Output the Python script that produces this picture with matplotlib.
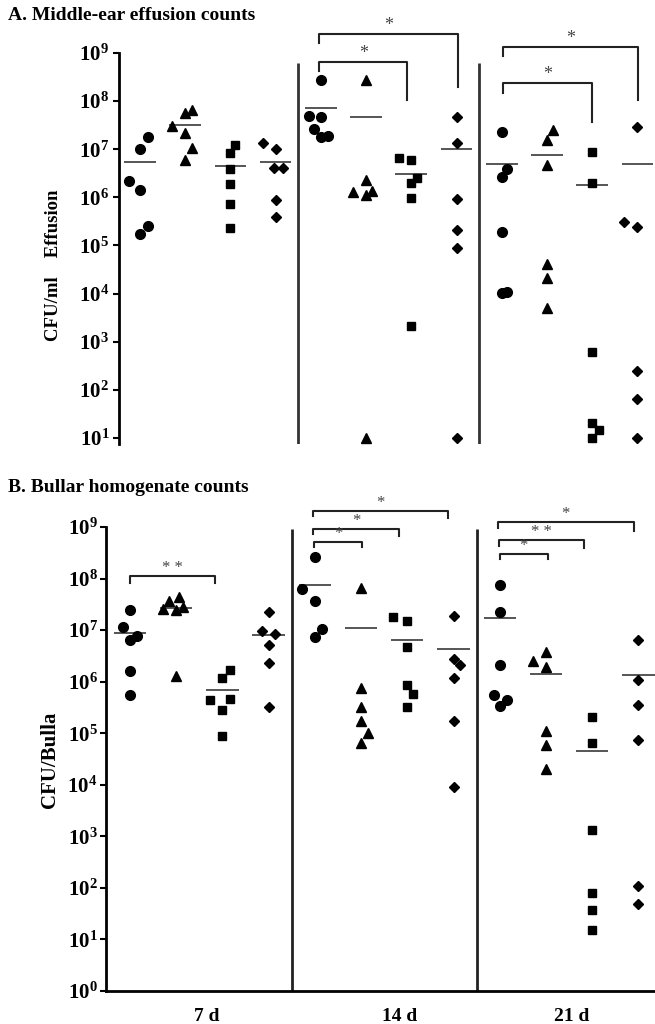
import numpy as np
import matplotlib.pyplot as plt
from matplotlib.ticker import FuncFormatter, NullLocator

plt.rcParams['font.family'] = ['Liberation Serif', 'DejaVu Serif']
plt.rcParams['font.weight'] = 'bold'
plt.rcParams['mathtext.fontset'] = 'custom'
plt.rcParams['mathtext.bf'] = 'Liberation Serif:bold'
plt.rcParams['mathtext.rm'] = 'Liberation Serif:bold'

days = ['7 d', '14 d', '21 d']

# A. middle-ear effusion, CFU/ml  (groups: circle, triangle, square, diamond)
effusion_7d = [
    [1.8e7, 1.0e7, 2.2e6, 1.4e6, 2.6e5, 1.7e5],
    [3.0e7, 5.6e7, 6.5e7, 2.2e7, 1.07e7, 6.0e6],
    [1.2e7, 8.3e6, 3.9e6, 1.9e6, 7.2e5, 2.3e5],
    [1.35e7, 1.0e7, 4.1e6, 4.1e6, 8.7e5, 3.9e5],
]
effusion_14d = [
    [2.8e8, 4.9e7, 4.7e7, 2.6e7, 1.8e7, 1.9e7],
    [2.8e8, 2.3e6, 1.3e6, 1.1e6, 1.35e6, 10],
    [6.6e6, 6.0e6, 2.5e6, 2.0e6, 9.8e5, 2.1e3],
    [4.7e7, 1.35e7, 9.1e5, 2.1e5, 8.9e4, 10],
]
effusion_21d = [
    [2.3e7, 3.9e6, 2.6e6, 1.9e5, 1.02e4, 1.07e4],
    [2.5e7, 1.55e7, 4.7e6, 4.1e4, 2.1e4, 5.0e3],
    [8.7e6, 2.0e6, 6.0e2, 20, 15, 10],
    [2.9e7, 3.1e5, 2.4e5, 250, 65, 10],
]

# B. bullar homogenate, CFU/bulla
bulla_7d = [
    [2.5e7, 1.15e7, 7.8e6, 6.5e6, 1.6e6, 5.5e5],
    [3.7e7, 4.4e7, 2.6e7, 2.5e7, 2.8e7, 1.3e6],
    [1.7e6, 1.2e6, 4.5e5, 4.7e5, 2.8e5, 9.0e4],
    [2.2e7, 9.4e6, 8.5e6, 5.2e6, 2.3e6, 3.2e5],
]
bulla_14d = [
    [2.6e8, 6.3e7, 3.6e7, 1.05e7, 7.4e6],
    [6.6e7, 7.6e5, 3.2e5, 1.7e5, 1.0e5, 6.5e4],
    [1.8e7, 1.5e7, 4.6e6, 8.7e5, 5.8e5, 3.2e5],
    [1.9e7, 2.8e6, 2.1e6, 1.2e6, 1.7e5, 9.1e3],
]
bulla_21d = [
    [7.6e7, 2.2e7, 2.1e6, 5.5e5, 4.5e5, 3.4e5],
    [3.8e6, 2.5e6, 1.9e6, 1.1e5, 5.8e4, 2.0e4],
    [2.1e5, 6.5e4, 1.35e3, 78, 38, 15],
    [6.4e6, 1.1e6, 3.5e5, 7.4e4, 110, 49],
]

# horizontal scatter of the dots inside each column
effusion_jitter = [
    [0.18, 0, -0.25, 0, 0.18, 0], [-0.29, 0, 0.15, 0, 0.15, 0],
    [0.11, -0.02, 0, 0, 0, 0], [-0.27, 0, -0.04, 0.16, 0, 0],
    [0, -0.27, 0, -0.15, 0, 0.15], [0, 0, -0.29, 0, 0.13, 0],
    [-0.27, 0, 0.13, 0, 0, 0], [0, 0, 0, 0, 0, 0],
    [0, 0.11, 0, 0, 0, 0.11], [0.13, 0, 0, 0, 0, 0],
    [0, 0, 0, 0, 0.15, 0], [0, -0.29, 0, 0, 0, 0],
]
bulla_jitter = [
    [0, -0.15, 0.15, 0, 0, 0], [-0.15, 0.07, -0.28, 0, 0.15, 0],
    [0.17, 0, -0.28, 0.17, 0, 0], [0, -0.15, 0.13, 0, 0, 0],
    [0, -0.28, 0, 0.15, 0], [0, 0, 0, 0, 0.15, 0],
    [-0.3, 0, 0, 0, 0.13, 0], [0, 0, 0.15, 0, 0, 0],
    [0, 0, 0, -0.13, 0.15, 0], [0, -0.28, 0, 0, 0, 0],
    [0, 0, 0, 0, 0, 0], [0, 0, 0, 0, 0, 0],
]

# significance brackets: x1, x2, top, left end, right end (log10), label
effusion_brackets = [
    (3.96, 7.04, 9.40, 9.21, 8.29, '*'),
    (3.96, 5.91, 8.81, 8.63, 8.02, '*'),
    (8.03, 11.02, 9.12, 8.94, 8.02, '*'),
    (8.03, 10.0, 8.38, 8.17, 7.57, '*'),
]
bulla_brackets = [
    (0.0, 1.83, 8.05, 7.91, 7.91, '* *'),
    (3.96, 6.89, 9.31, 9.21, 9.17, '*'),
    (3.96, 5.83, 8.96, 8.86, 8.83, '*'),
    (3.98, 5.02, 8.71, 8.61, 8.61, '*'),
    (7.96, 10.9, 9.10, 8.98, 8.92, '*'),
    (7.98, 9.83, 8.75, 8.63, 8.59, '* *'),
    (8.0, 9.04, 8.48, 8.38, 8.38, '*'),
]

markers = ['o', '^', 's', 'D']
msize = {'o': 7, '^': 7.5, 's': 6, 'D': 4.6}

W, H = 655, 1024
fig = plt.figure(figsize=(W / 100, H / 100), dpi=100)


def draw_panel(ax, groups, jitter, brackets, star_fs):
    for i, (vals, jit) in enumerate(zip(groups, jitter)):
        m = markers[i % 4]
        ax.plot(i + np.array(jit), vals, ls='none', marker=m, ms=msize[m],
                color='black', clip_on=False, zorder=3)
        ax.hlines(np.mean(vals), i - 0.35, i + 0.35, color='#555555', lw=1.4)
    for x1, x2, top, le, re, lab in brackets:
        ax.plot([x1, x1, x2, x2], [10**le, 10**top, 10**top, 10**re],
                color='#222222', lw=1.5, clip_on=False)
        ax.annotate(lab, ((x1 + x2) / 2, 10**top), xytext=(0, 0),
                    textcoords='offset points', ha='center', va='bottom',
                    fontsize=star_fs, color='#444444', fontweight='normal',
                    annotation_clip=False)
    ax.set_yscale('log')
    ax.yaxis.set_major_formatter(FuncFormatter(lambda v, p: r'$\mathbf{10^{%d}}$' % round(np.log10(v))))
    ax.yaxis.set_minor_locator(NullLocator())
    for s in ['top', 'right']:
        ax.spines[s].set_visible(False)
    ax.spines['left'].set_linewidth(2)
    ax.spines['bottom'].set_linewidth(2)
    ax.tick_params(axis='y', length=4, width=1.5, labelsize=15)


# panel A
axA = fig.add_axes([119 / W, 1 - 444 / H, (W - 119) / W, (444 - 53) / H])
draw_panel(axA, effusion_7d + effusion_14d + effusion_21d, effusion_jitter,
           effusion_brackets, 13)
axA.set_xlim(-0.465, 11.39)
axA.set_ylim(10**0.875, 1e9)
axA.set_yticks([10.0**k for k in range(1, 10)])
axA.spines['bottom'].set_visible(False)
axA.set_xticks([])
axA.vlines([3.5, 7.5], 10**0.875, 10**8.8, color='#333333', lw=2)
axA.tick_params(axis='y', pad=3)

# panel B
axB = fig.add_axes([106 / W, 1 - 991 / H, (W - 106) / W, (991 - 527) / H])
draw_panel(axB, bulla_7d + bulla_14d + bulla_21d, bulla_jitter,
           bulla_brackets, 12)
axB.set_xlim(-0.52, 11.36)
axB.set_ylim(1, 1e9)
axB.set_yticks([10.0**k for k in range(0, 10)])
axB.vlines([3.5, 7.5], 1, 10**8.96, color='#222222', lw=2)
axB.set_xticks([1.67, 5.84, 9.56])
axB.set_xticklabels(days, fontsize=14)
axB.tick_params(axis='x', length=0, pad=12)
axB.tick_params(axis='y', pad=2)

fig.text(8 / W, 1 - 15 / H, 'A. Middle-ear effusion counts', fontsize=14,
         va='center', ha='left')
fig.text(8 / W, 1 - 487 / H, 'B. Bullar homogenate counts', fontsize=14,
         va='center', ha='left')
fig.text(54 / W, 1 - 265 / H, 'CFU/ml    Effusion', rotation=90, fontsize=13.5,
         va='center', ha='center')
fig.text(50 / W, 1 - 760 / H, 'CFU/Bulla', rotation=90, fontsize=15,
         va='center', ha='center')

fig.savefig('out.png', dpi=100)
